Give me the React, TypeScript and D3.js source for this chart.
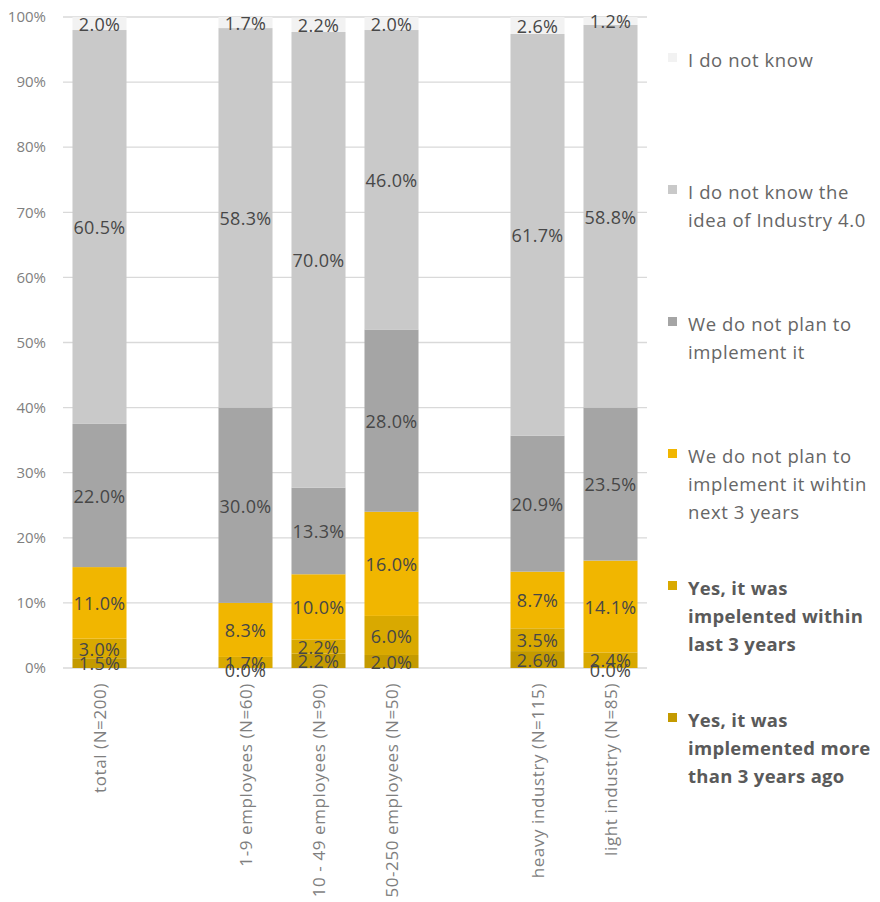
import React from "react";
import * as d3 from "d3";

const categories = [
  "total (N=200)",
  "",
  "1-9 employees (N=60)",
  "10 - 49 employees (N=90)",
  "50-250 employees (N=50)",
  "",
  "heavy industry (N=115)",
  "light industry (N=85)",
];

// values per slot (null = empty slot), stacked bottom -> top
const moreThan3 = [1.5, null, 0.0, 2.2, 2.0, null, 2.6, 0.0];
const within3 = [3.0, null, 1.7, 2.2, 6.0, null, 3.5, 2.4];
const notPlanNext3 = [11.0, null, 8.3, 10.0, 16.0, null, 8.7, 14.1];
const notPlan = [22.0, null, 30.0, 13.3, 28.0, null, 20.9, 23.5];
const notKnowIdea = [60.5, null, 58.3, 70.0, 46.0, null, 61.7, 58.8];
const notKnow = [2.0, null, 1.7, 2.2, 2.0, null, 2.6, 1.2];

const seriesNames = [
  "Yes, it was implemented more than 3 years ago",
  "Yes, it was impelented within last 3 years",
  "We do not plan to implement it wihtin next 3 years",
  "We do not plan to implement it",
  "I do not know the idea of Industry 4.0",
  "I do not know",
];
const seriesValues = [moreThan3, within3, notPlanNext3, notPlan, notKnowIdea, notKnow];
const seriesColors = ["#c49a00", "#d9a900", "#f1b600", "#a5a5a5", "#c9c9c9", "#f2f2f2"];

const legendLines = [
  ["I do not know"],
  ["I do not know the", "idea of Industry 4.0"],
  ["We do not plan to", "implement it"],
  ["We do not plan to", "implement it wihtin", "next 3 years"],
  ["Yes, it was", "impelented within", "last 3 years"],
  ["Yes, it was", "implemented more", "than 3 years ago"],
];
const legendBold = [false, false, false, false, true, true];

const yTicks = [0, 10, 20, 30, 40, 50, 60, 70, 80, 90, 100];

const FONT = "'Open Sans', 'Noto Sans', sans-serif";

export default function App() {
  const W = 880;
  const H = 902;
  const left = 63;
  const right = 647;
  const y = d3.scaleLinear().domain([0, 100]).range([668, 17]);
  const slots = categories.map((_, i) => String(i));
  const x = d3
    .scaleBand<string>()
    .domain(slots)
    .range([left, right])
    .paddingInner(0.26)
    .paddingOuter(0.13);

  const rows = categories.map((c, i) => {
    const r: any = { key: String(i) };
    seriesValues.forEach((s, k) => (r["s" + k] = s[i] ?? 0));
    return r;
  });
  const stack = d3.stack<any>().keys(seriesValues.map((_, k) => "s" + k));
  const stacked = stack(rows);

  const legendX = 668;
  const legendTop = 67;
  const legendStep = 132;
  const lineH = 28;

  return (
    <svg
      width={W}
      height={H}
      style={{ position: "absolute", left: 0, top: 0, background: "#fff" }}
    >
      {/* gridlines */}
      {yTicks.map((t) => (
        <line
          key={"g" + t}
          x1={left}
          x2={right}
          y1={y(t)}
          y2={y(t)}
          stroke="#d9d9d9"
          strokeWidth={1.3}
        />
      ))}
      {/* y tick labels */}
      {yTicks.map((t) => (
        <text
          key={"yt" + t}
          x={46}
          y={y(t)}
          dy="0.35em"
          textAnchor="end"
          fontFamily={FONT}
          fontSize={15}
          fill="#7f7f7f"
        >
          {t + "%"}
        </text>
      ))}
      {/* bars */}
      {stacked.map((layer, k) => (
        <g key={"l" + k} fill={seriesColors[k]}>
          {layer.map((d, i) =>
            seriesValues[k][i] == null ? null : (
              <rect
                key={i}
                x={x(String(i))}
                width={x.bandwidth()}
                y={y(d[1])}
                height={Math.max(0, y(d[0]) - y(d[1]))}
              />
            )
          )}
        </g>
      ))}
      {/* data labels */}
      {stacked.map((layer, k) => (
        <g key={"dl" + k}>
          {layer.map((d, i) => {
            const v = seriesValues[k][i];
            if (v == null) return null;
            const cy = (y(d[0]) + y(d[1])) / 2 + (v === 0 ? 3 : 1);
            return (
              <text
                key={i}
                x={(x(String(i)) as number) + x.bandwidth() / 2}
                y={cy}
                dy="0.35em"
                textAnchor="middle"
                fontFamily={FONT}
                fontSize={18}
                letterSpacing={0.3}
                fill="#474747"
              >
                {v.toFixed(1) + "%"}
              </text>
            );
          })}
        </g>
      ))}
      {/* x labels */}
      {categories.map((c, i) =>
        c ? (
          <text
            key={"xl" + i}
            transform={`translate(${(x(String(i)) as number) + x.bandwidth() / 2 + 6},683) rotate(-90)`}
            textAnchor="end"
            fontFamily={FONT}
            fontSize={17}
            letterSpacing={0.6}
            fill="#7f7f7f"
          >
            {c}
          </text>
        ) : null
      )}
      {/* legend */}
      {legendLines.map((lines, j) => {
        const k = seriesNames.length - 1 - j;
        const by = legendTop + j * legendStep;
        return (
          <g key={"lg" + j}>
            <rect x={legendX} y={by - 14} width={9} height={9} fill={seriesColors[k]} />
            {lines.map((ln, li) => (
              <text
                key={li}
                x={legendX + 20}
                y={by + li * lineH}
                fontFamily={FONT}
                fontSize={18.5}
                letterSpacing={legendBold[j] ? 0.3 : 0.6}
                fontWeight={legendBold[j] ? 700 : 400}
                fill={legendBold[j] ? "#5a5a5a" : "#666666"}
              >
                {ln}
              </text>
            ))}
          </g>
        );
      })}
    </svg>
  );
}
